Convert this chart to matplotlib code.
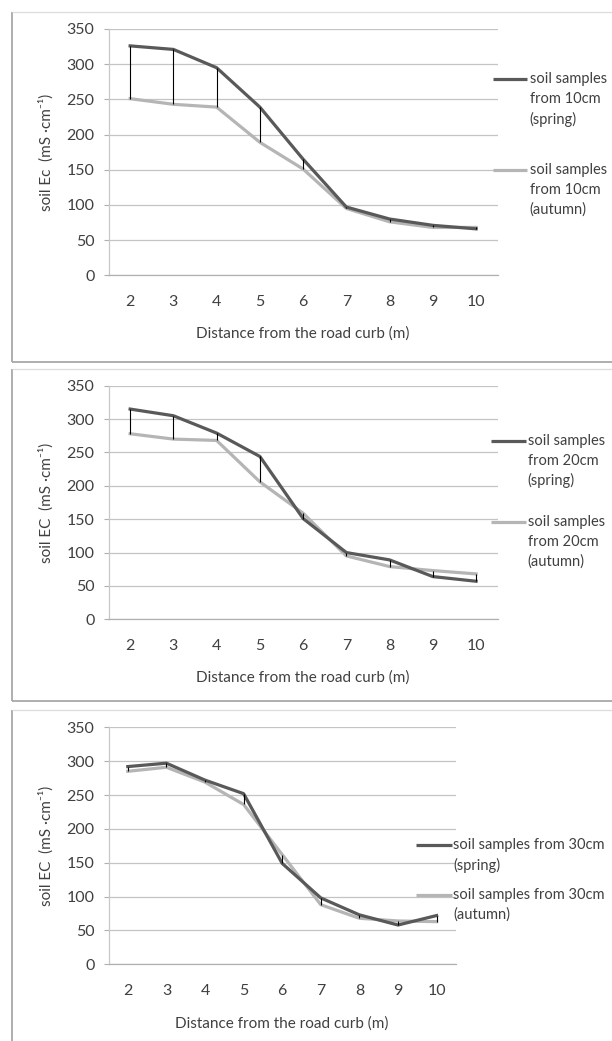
import matplotlib
matplotlib.use("Agg")
import matplotlib.pyplot as plt
from matplotlib.lines import Line2D

plt.rcParams['font.family'] = ['Lato', 'DejaVu Sans']

# ---------------- data ----------------
distance = ['2', '3', '4', '5', '6', '7', '8', '9', '10']
yticks = [0, 50, 100, 150, 200, 250, 300, 350]

spring_10 = [326, 321, 295, 239, 165, 97, 80, 71, 66]
autumn_10 = [251, 243, 239, 189, 151, 95, 76, 68, 68]

spring_20 = [315, 305, 279, 244, 151, 100, 89, 64, 57]
autumn_20 = [278, 270, 268, 206, 159, 95, 79, 73, 68]

spring_30 = [292, 297, 272, 252, 149, 98, 73, 58, 72]
autumn_30 = [285, 291, 269, 236, 162, 88, 68, 64, 63]

ylabels = ['soil Ec  (mS \u00b7cm\u207b\u00b9)', 'soil EC  (mS \u00b7cm\u207b\u00b9)', 'soil EC  (mS \u00b7cm\u207b\u00b9)']
xlabel = 'Distance from the road curb (m)'
legend_spring = [['soil samples', 'from 10cm', '(spring)'],
                 ['soil samples', 'from 20cm', '(spring)'],
                 ['soil samples from 30cm', '(spring)']]
legend_autumn = [['soil samples', 'from 10cm', '(autumn)'],
                 ['soil samples', 'from 20cm', '(autumn)'],
                 ['soil samples from 30cm', '(autumn)']]

# ---------------- style ----------------
W, H = 612, 1041
C_SPRING = '#595959'
C_AUTUMN = '#b5b5b5'
C_GRID = '#c4c4c4'
C_TEXT = '#404040'

fig = plt.figure(figsize=(W / 100, H / 100), dpi=100)
fig.patch.set_facecolor('white')

def fx(x):
    return x / W

def fy(y):
    return 1 - y / H

def fig_line(x0, x1, y0, y1, color, lw):
    fig.add_artist(Line2D([fx(x0), fx(x1)], [fy(y0), fy(y1)], transform=fig.transFigure,
                          color=color, lw=lw, solid_capstyle='butt'))

# panel frames
fig_line(11.5, 11.5, 12, 362, '#a8a8a8', 1.3)
fig_line(11.5, 612, 12, 12, '#dcdcdc', 0.9)
fig_line(11.5, 612, 362, 362, '#a8a8a8', 1.3)
fig_line(11.5, 11.5, 369, 701, '#a8a8a8', 1.3)
fig_line(11.5, 612, 369, 369, '#dcdcdc', 0.9)
fig_line(11.5, 612, 701, 701, '#a8a8a8', 1.3)
fig_line(11.5, 11.5, 710, 1041, '#a8a8a8', 1.3)
fig_line(11.5, 612, 710, 710, '#dcdcdc', 0.9)

panels = [
    dict(ax=(108.5, 497.7, 29, 275.3), xl=334, yl=46,
         leg_line=(493.3, 527.3), leg_tx=529.5, sp_y=79.3, au_y=170.0,
         s=spring_10, a=autumn_10),
    dict(ax=(108.5, 497.7, 385.7, 619.3), xl=678, yl=46,
         leg_line=(491, 526), leg_tx=527.5, sp_y=440.7, au_y=521.7,
         s=spring_20, a=autumn_20),
    dict(ax=(108.5, 455.9, 727.3, 964.3), xl=1023.3, yl=46,
         leg_line=(416, 452), leg_tx=453, sp_y=845.0, au_y=895.0,
         s=spring_30, a=autumn_30),
]

for i, p in enumerate(panels):
    l, r, t, b = p['ax']
    ax = fig.add_axes([fx(l), fy(b), (r - l) / W, (b - t) / H])
    xs = list(range(len(distance)))
    ax.plot(xs, p['a'], color=C_AUTUMN, lw=2.3, zorder=3, solid_joinstyle='round')
    ax.plot(xs, p['s'], color=C_SPRING, lw=2.3, zorder=4, solid_joinstyle='round')
    lo = [min(s, a) for s, a in zip(p['s'], p['a'])]
    hi = [max(s, a) for s, a in zip(p['s'], p['a'])]
    ax.vlines(xs, lo, hi, colors='black', lw=0.8, zorder=5)

    ax.set_xlim(-0.5, len(distance) - 0.5)
    ax.set_ylim(0, 350)
    ax.set_yticks(yticks)
    ax.set_xticks(xs, distance)
    ax.grid(axis='y', color=C_GRID, lw=0.9)
    ax.set_axisbelow(True)
    for sp in ['top', 'right']:
        ax.spines[sp].set_visible(False)
    ax.spines['left'].set_color('#c8c8c8')
    ax.spines['bottom'].set_color('#b0b0b0')
    ax.spines['left'].set_linewidth(0.9)
    ax.spines['bottom'].set_linewidth(0.9)
    ax.tick_params(axis='y', length=3.6, width=0.8, color='#b0b0b0', pad=6.5,
                   labelsize=11.5, labelcolor=C_TEXT)
    ax.tick_params(axis='x', length=0, pad=14.5, labelsize=11.5, labelcolor=C_TEXT)

    fig.text(fx((l + r) / 2), fy(p['xl']), xlabel, ha='center', va='center',
             fontsize=11, color=C_TEXT)
    fig.text(fx(p['yl']), fy((t + b) / 2), ylabels[i], ha='center', va='center',
             rotation=90, fontsize=11, color=C_TEXT)

    x0, x1 = p['leg_line']
    for yy, col, lines in [(p['sp_y'], C_SPRING, legend_spring[i]),
                           (p['au_y'], C_AUTUMN, legend_autumn[i])]:
        fig_line(x0, x1, yy, yy, col, 2.3)
        for k, txt in enumerate(lines):
            fig.text(fx(p['leg_tx']), fy(yy + 20 * k), txt, ha='left', va='center',
                     fontsize=10.5, color=C_TEXT)

fig.savefig('out.png', dpi=100, facecolor='white')
